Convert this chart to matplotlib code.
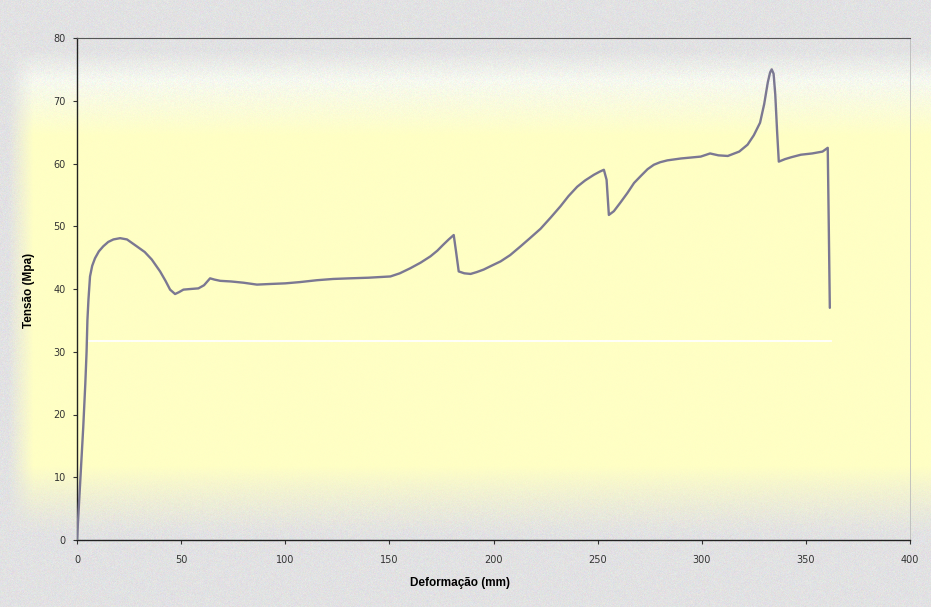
import numpy as np
import matplotlib
matplotlib.use("Agg")
import matplotlib.pyplot as plt

# ---- data ----
deformacao = [0, 1, 2, 3, 4, 4.6, 5.0, 5.5, 6.25, 7.3, 8.65, 10.5, 12.6, 15, 17.5, 20.7,
              24, 28.7, 32.5, 35.9, 39.9, 42.5, 44.7, 47.1, 49, 51.1, 54.5, 58.3, 61,
              63.9, 66, 68.8, 74, 80, 86.4, 92.8, 100, 107, 115.2, 123, 131, 140, 150.5,
              155, 160, 165, 169.7, 173, 176, 178.5, 180.9, 182, 183.3, 186, 189, 192,
              195.3, 199, 203.4, 208, 213, 217.5, 222.6, 227.5, 232.2, 236, 240.2, 244,
              248.2, 251, 253, 254.3, 255.4, 257.8, 261, 264.3, 267.5, 270.7, 274, 277,
              280, 283.5, 290, 299.5, 304, 308, 312.5, 318, 322, 325, 328, 330, 331.7,
              332.8, 333.6, 334.5, 335.3, 336.2, 337, 340, 343, 347.6, 353, 358, 360.5,
              361, 361.5]
tensao = [0, 6, 12, 18, 25, 30, 35.0, 38.3, 42.0, 43.7, 44.9, 46.0, 46.8, 47.5, 47.9,
          48.1, 47.9, 46.8, 45.9, 44.7, 42.8, 41.3, 39.9, 39.2, 39.5, 39.9, 40.0, 40.1,
          40.6, 41.7, 41.5, 41.3, 41.2, 41.0, 40.7, 40.8, 40.9, 41.1, 41.4, 41.6, 41.7,
          41.8, 42.0, 42.5, 43.3, 44.2, 45.2, 46.1, 47.1, 47.9, 48.6, 46.0, 42.8, 42.5,
          42.4, 42.7, 43.1, 43.7, 44.4, 45.4, 46.8, 48.1, 49.6, 51.4, 53.2, 54.8, 56.3,
          57.3, 58.2, 58.7, 59.0, 57.4, 51.8, 52.4, 53.8, 55.3, 56.9, 58.0, 59.1, 59.8,
          60.2, 60.5, 60.8, 61.1, 61.6, 61.3, 61.2, 61.9, 63.0, 64.5, 66.5, 69.5, 72.9,
          74.5, 75.0, 74.3, 71.0, 65.0, 60.3, 60.7, 61.0, 61.4, 61.6, 61.9, 62.5, 50.0,
          37.0]

x_ticks = [0, 50, 100, 150, 200, 250, 300, 350, 400]
y_ticks = [0, 10, 20, 30, 40, 50, 60, 70, 80]
x_label = "Deformação (mm)"
y_label = "Tensão (Mpa)"

# scan artefact (white streak across the plot)
artefact_y = [31.7]
artefact_x = [6, 362]

W, H = 931, 607
fig = plt.figure(figsize=(W / 100, H / 100), dpi=100)

# ---- background gradient (scanned page look) ----
bg = fig.add_axes([0, 0, 1, 1], zorder=-10)
rows = np.arange(H).astype(float)
cols = np.arange(W).astype(float)
gray = np.array([0.885, 0.885, 0.89])
white = np.array([0.965, 0.975, 0.94])
yellow = np.array([1.0, 1.0, 0.77])


def lerp(a, b, t):
    a = np.broadcast_to(a, (len(t), 3))
    b = np.broadcast_to(b, (len(t), 3))
    return a * (1 - t[:, None]) + b * t[:, None]


t1 = np.clip((rows - 50) / 30.0, 0, 1)
t2 = np.clip((rows - 80) / 55.0, 0, 1)
top = lerp(lerp(gray, white, t1), yellow, t2)
t3 = np.clip((535 - rows) / 70.0, 0, 1) ** 1.2
bot = lerp(gray, yellow, t3)
prof = np.where((rows < H / 2)[:, None], top, bot)          # (H, 3)
tl = np.clip((cols - 8) / 25.0, 0, 1)                       # (W,)
img = prof[:, None, :] * tl[None, :, None] + gray[None, None, :] * (1 - tl[None, :, None])
vfade = np.where(rows < H / 2, t2, t3)
grayness = 1 - np.minimum(vfade[:, None], tl[None, :])
rng = np.random.default_rng(3)
img = img + rng.normal(0, 0.015, img.shape) * (0.15 + 0.85 * grayness[..., None])
img = np.clip(img, 0, 1)
bg.imshow(img, aspect="auto", extent=[0, 1, 0, 1], interpolation="bilinear")
bg.axis("off")

# ---- main axes ----
ax = fig.add_axes([77 / W, 1 - 540 / H, (910 - 77) / W, (540 - 38) / H])
ax.set_facecolor("none")
ax.axhline(artefact_y[0], xmin=artefact_x[0] / 400, xmax=artefact_x[1] / 400,
           color="white", lw=1.3, zorder=1)
ax.plot(deformacao, tensao, color="#7b7892", lw=1.7, solid_joinstyle="round",
        solid_capstyle="round", zorder=3)

ax.set_xlim(0, 400)
ax.set_ylim(0, 80)
ax.set_xticks(x_ticks)
ax.set_yticks(y_ticks)
ax.tick_params(axis="both", direction="out", length=3, width=0.8, colors="#333333",
               labelsize=7, labelcolor="#333333")
ax.tick_params(axis="x", pad=8)
ax.tick_params(axis="y", pad=5)
for s in ("left", "bottom"):
    ax.spines[s].set_color("#222222")
    ax.spines[s].set_linewidth(1.0)
ax.spines["top"].set_color("#555555")
ax.spines["top"].set_linewidth(0.8)
ax.spines["right"].set_color("#bbbbbb")
ax.spines["right"].set_linewidth(0.6)

ax.set_xlabel(x_label, fontsize=8.5, fontweight="bold", family="Liberation Sans")
ax.set_ylabel(y_label, fontsize=8.5, fontweight="bold", family="Liberation Sans")
ax.xaxis.set_label_coords(0.46, -0.074)
ax.yaxis.set_label_coords(-0.05, 0.497)

fig.savefig("out.png", dpi=100)
